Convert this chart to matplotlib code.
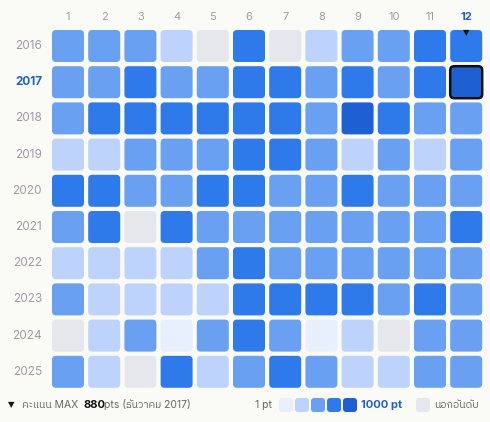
import matplotlib
matplotlib.use("Agg")
import matplotlib.pyplot as plt
from matplotlib.patches import FancyBboxPatch
from matplotlib import font_manager
from matplotlib.ft2font import FT2Font

years = [2016, 2017, 2018, 2019, 2020, 2021, 2022, 2023, 2024, 2025]
months = list(range(1, 13))
# level 0 = out of ranking, 1..5 = intensity bins
levels = [
    [3,3,3,2,0,4,0,2,3,3,4,4],
    [3,3,4,3,3,4,4,3,4,3,4,5],
    [3,4,4,4,4,4,4,3,5,4,3,3],
    [2,2,3,3,3,4,4,3,2,3,2,3],
    [4,4,3,3,4,4,3,3,4,3,3,3],
    [3,4,0,4,3,3,3,3,3,3,3,4],
    [2,2,2,2,3,4,3,3,3,3,3,3],
    [3,2,2,2,2,4,4,4,4,3,4,3],
    [0,2,3,1,3,4,3,1,2,0,3,3],
    [3,2,0,4,2,3,4,3,2,2,3,3],
]
max_year, max_month, max_pts = 2017, 12, 880
palette = ["#e6e7eb", "#e8effd", "#bed3fb", "#6aa0f2", "#2e7aea", "#1f5fd4"]

thai_fam = None
for f in font_manager.fontManager.ttflist:
    try:
        if FT2Font(f.fname).get_char_index(ord('ก')):
            thai_fam = f.name
            if 'Sans' in f.name:
                break
    except Exception:
        pass
fams = ['Inter', 'Noto Sans'] + ([thai_fam] if thai_fam else []) + ['DejaVu Sans']
plt.rcParams['font.family'] = fams

W, H = 490, 422
fig = plt.figure(figsize=(W/100, H/100), dpi=100, facecolor="#fafaf7")
ax = fig.add_axes([0, 0, 1, 1])
ax.set_xlim(0, W); ax.set_ylim(H, 0); ax.axis('off')

x0, y0, pitch, size = 52, 30, 36.2, 32
for i, y in enumerate(years):
    ax.text(42, y0 + i*pitch + size/2, str(y), ha='right', va='center', fontsize=8.5,
            color="#1f5fd4" if y == max_year else "#a09aa3",
            fontweight='bold' if y == max_year else 'normal')
    for j, m in enumerate(months):
        cx = x0 + j*pitch; cy = y0 + i*pitch
        sel = (y == max_year and m == max_month)
        ax.add_patch(FancyBboxPatch((cx+2, cy+2), size-4, size-4,
                     boxstyle="round,pad=2,rounding_size=4",
                     fc=palette[levels[i][j]], ec="#111111" if sel else "none",
                     lw=1.8 if sel else 0))
for j, m in enumerate(months):
    ax.text(x0 + j*pitch + size/2, 17, str(m), ha='center', va='center', fontsize=8,
            color="#1f5fd4" if m == max_month else "#a09aa3",
            fontweight='bold' if m == max_month else 'normal')
jm = months.index(max_month)
ax.text(x0 + jm*pitch + size/2, 33, "▼", ha='center', va='center', fontsize=6,
        color="#111", family='DejaVu Sans')

ly = 405
ax.text(8, ly, "▼", ha='left', va='center', fontsize=6, color="#111", family='DejaVu Sans')
t1 = ax.text(22, ly, "คะแนน MAX", ha='left', va='center', fontsize=7.5, color="#666")
ax.text(83, ly, f"{max_pts}", ha='left', va='center', fontsize=8, color="#111", fontweight='bold')
ax.text(104, ly, "pts (ธันวาคม 2017)", ha='left', va='center', fontsize=7.5, color="#666")
ax.text(272, ly, "1 pt", ha='right', va='center', fontsize=7.5, color="#666")
for k in range(1, 6):
    ax.add_patch(FancyBboxPatch((279 + (k-1)*16 + 1, ly-6), 12, 12,
                 boxstyle="round,pad=1,rounding_size=3", fc=palette[k], ec='none'))
ax.text(361, ly, "1000 pt", ha='left', va='center', fontsize=8, color="#1f5fd4", fontweight='bold')
ax.add_patch(FancyBboxPatch((417, ly-6), 12, 12, boxstyle="round,pad=1,rounding_size=3",
             fc=palette[0], ec='none'))
ax.text(434, ly, "นอกอันดับ", ha='left', va='center', fontsize=7.5, color="#666")
fig.savefig("out.png", dpi=100, facecolor=fig.get_facecolor())
